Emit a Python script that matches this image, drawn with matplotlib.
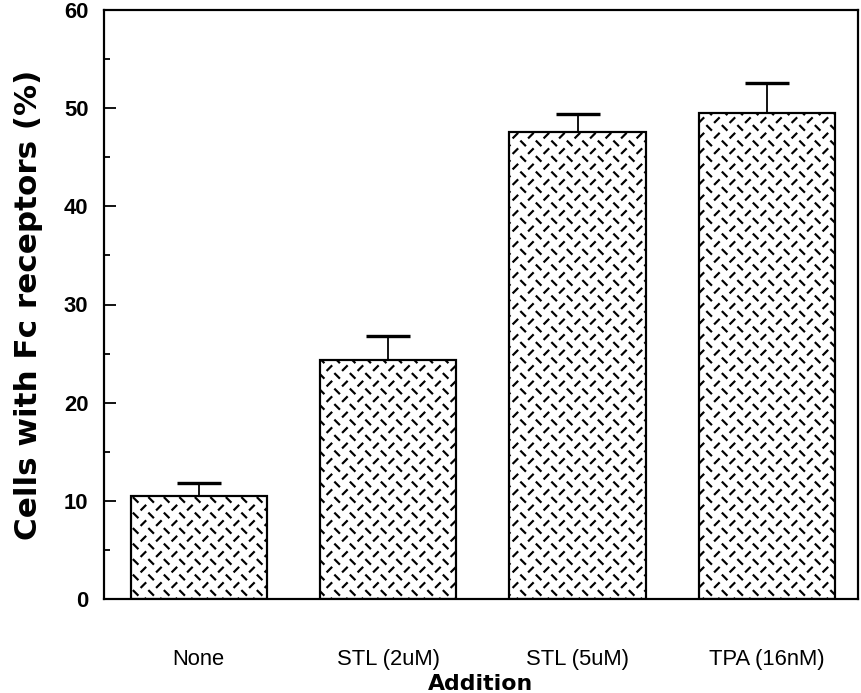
import numpy as np
import matplotlib
matplotlib.use("Agg")
import matplotlib.pyplot as plt
import matplotlib.hatch as mhatch
from matplotlib.path import Path

# data
categories = ["None", "STL (2uM)", "STL (5uM)", "TPA (16nM)"]
cells_pct = [10.5, 24.3, 47.6, 49.5]
err_up = [1.3, 2.5, 1.8, 3.1]
yticks = [0, 10, 20, 30, 40, 50, 60]


# old-style stipple fill: short dashes, rows alternating / and \
class DashPlate(mhatch.HatchPatternBase):
    def __init__(self, hatch, density):
        self.n = hatch.count('*') * density
        self.num_vertices = 4 * self.n * self.n

    def set_vertices_and_codes(self, vertices, codes):
        n = self.n
        d = 0.13 / n
        k = 0
        for r in range(2 * n):
            y = (r + 0.5) / (2 * n)
            sign = 1 if r % 2 == 0 else -1
            shift = 0.25 if r % 2 == 0 else 0.75
            for i in range(n):
                x = (i + shift) / n
                vertices[k] = (x - d, y - sign * d)
                vertices[k + 1] = (x + d, y + sign * d)
                codes[k] = Path.MOVETO
                codes[k + 1] = Path.LINETO
                k += 2


# use '*' for the custom pattern instead of stars
mhatch._hatch_types[mhatch._hatch_types.index(mhatch.Stars)] = DashPlate

plt.rcParams['hatch.linewidth'] = 1.7
plt.rcParams['hatch.color'] = 'black'

DPI = 93
fig = plt.figure(figsize=(861 / DPI, 693 / DPI), dpi=DPI)
ax = fig.add_axes([104 / 861, 94 / 693, 754 / 861, 589 / 693])

x = np.arange(len(categories))
ax.bar(x, cells_pct, width=0.72, color='white', edgecolor='black',
       linewidth=1.7, hatch='*', zorder=2)

eb = ax.errorbar(x, cells_pct, yerr=[np.zeros(len(x)), err_up], fmt='none',
                 ecolor='black', elinewidth=1.4, capsize=17, capthick=2.6,
                 zorder=3)
# only the upper cap is drawn in the original
eb[1][0].remove()

ax.set_xlim(-0.5, 3.48)
ax.set_ylim(0, 60)
ax.set_yticks(yticks)
ax.set_yticks(np.arange(5, 60, 10), minor=True)
ax.set_xticks(x)
ax.set_xticklabels(categories, fontsize=17, family='Liberation Sans')

ax.tick_params(axis='y', which='major', direction='in', length=9, width=1.4,
               pad=12)
ax.tick_params(axis='y', which='minor', direction='in', length=5, width=1.4)
ax.tick_params(axis='x', length=0, pad=39)
for lab in ax.get_yticklabels():
    lab.set_fontfamily('Liberation Sans')
    lab.set_fontweight('bold')
    lab.set_fontsize(17)

for sp in ax.spines.values():
    sp.set_linewidth(1.7)

ax.set_ylabel('Cells with Fc receptors (%)', fontsize=24, fontweight='bold',
              family='DejaVu Sans', labelpad=16)
ax.set_xlabel('Addition', fontsize=17, fontweight='bold',
              family='DejaVu Sans', labelpad=3)

fig.savefig('out.png', dpi=DPI)
